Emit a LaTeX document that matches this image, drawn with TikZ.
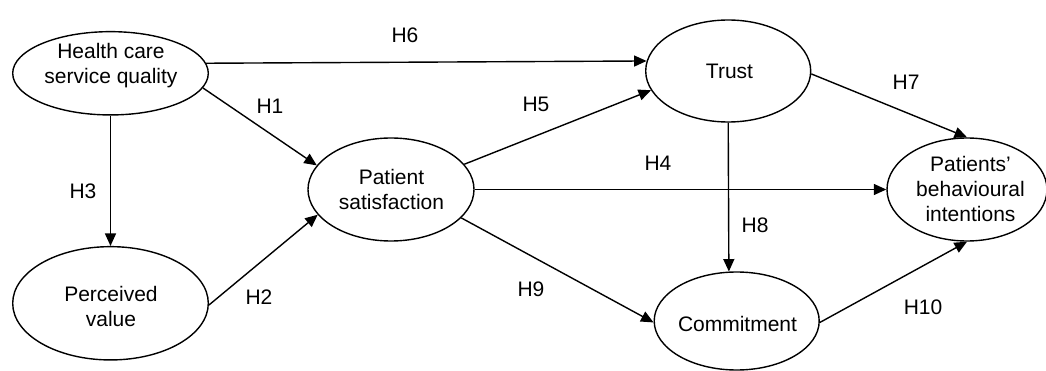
\documentclass[tikz,border=0pt]{standalone}
\usepackage{fontspec}
\setmainfont{Liberation Sans}
\usetikzlibrary{arrows.meta,shapes.geometric}
\begin{document}
\begin{tikzpicture}[x=1pt,y=-1pt,
  oval/.style={draw, ellipse, line width=1.4pt, inner sep=0pt},
  txt/.style={align=center, inner sep=0pt, font=\fontsize{21}{25}\selectfont},
  hlab/.style={inner sep=0pt, font=\fontsize{21}{25}\selectfont},
  conn/.style={line width=1.4pt, -{Triangle[length=12.5pt,width=11pt]}}]
\useasboundingbox (0,0) rectangle (1046,371);
% ellipses
\node[oval, minimum width=195.6pt, minimum height=83.3pt] (HCSQ) at (110.5,73.3) {};
\node[oval, minimum width=195.6pt, minimum height=113.3pt] (PV) at (110.5,303.3) {};
\node[oval, minimum width=166pt, minimum height=103pt] (PS) at (391,189.5) {};
\node[oval, minimum width=165pt, minimum height=102pt] (Trust) at (728.2,71) {};
\node[oval, minimum width=160pt, minimum height=103pt] (PBI) at (967,189.5) {};
\node[oval, minimum width=165pt, minimum height=98pt] (Comm) at (736.7,321) {};
% texts
\node[txt] (tHCSQ) at (111,66) {Health care\\service quality};
\node[txt] (tPV) at (111,306.7) {Perceived\\value};
\node[txt] (tPS) at (391.5,189) {Patient\\satisfaction};
\node[txt] (tTrust) at (729.5,71.8) {Trust};
\node[txt] (tPBI) at (970.5,189.2) {Patients’\\behavioural\\intentions};
\node[txt] (tComm) at (737.5,323.5) {Commitment};
% connectors
\draw[conn] (HCSQ.6.85) -- (Trust.173.7);
\draw[conn] (HCSQ.-9.5) -- (PS.162.6);
\draw[conn] (HCSQ.south) -- (PV.north);
\draw[conn] (PV.-1) -- (PS.199.6);
\draw[conn] (PS.19) -- (Trust.194);
\draw[conn] (PS.east) -- (PBI.west);
\draw[conn] (PS.-22.4) -- (Comm.181.4);
\draw[conn] (Trust.south) -- (Comm.99.9);
\draw[conn] (Trust.-2) -- (PBI.north);
\draw[conn] (Comm.-1) -- (PBI.south);
% labels
\node[hlab] (H6) at (405,35) {H6};
\node[hlab] (H1) at (270,106) {H1};
\node[hlab] (H3) at (83,191) {H3};
\node[hlab] (H2) at (259,297) {H2};
\node[hlab] (H5) at (536,104.5) {H5};
\node[hlab] (H4) at (658,163.5) {H4};
\node[hlab] (H8) at (755,225) {H8};
\node[hlab] (H7) at (906,82) {H7};
\node[hlab] (H10) at (923,307.5) {H10};
\node[hlab] (H9) at (531,289.5) {H9};
\end{tikzpicture}
\end{document}
